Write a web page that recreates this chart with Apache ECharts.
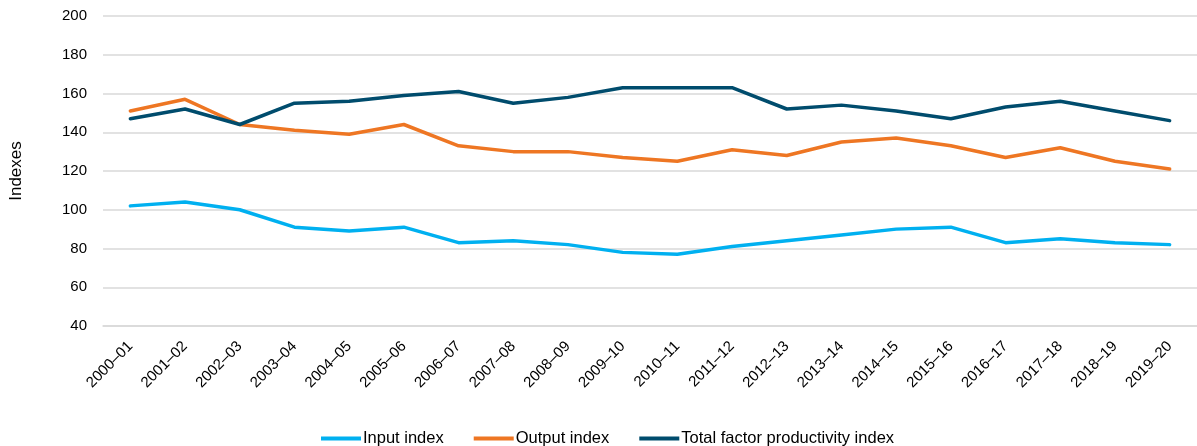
<!DOCTYPE html>
<html>
<head>
<meta charset="utf-8">
<script src="https://cdn.jsdelivr.net/npm/echarts@6/dist/echarts.min.js"></script>
<style>
  html, body { margin: 0; padding: 0; background: #fff; }
  #chart { width: 1197px; height: 446px; }
</style>
</head>
<body>
<div id="chart"></div>
<script>
const years = [
    "2000–01", "2001–02", "2002–03", "2003–04", "2004–05", "2005–06", "2006–07",
    "2007–08", "2008–09", "2009–10", "2010–11", "2011–12", "2012–13", "2013–14",
    "2014–15", "2015–16", "2016–17", "2017–18", "2018–19", "2019–20"
];
const inputIndex = [102, 104, 100, 91, 89, 91, 83, 84, 82, 78, 77, 81, 84, 87, 90, 91, 83, 85, 83, 82];
const outputIndex = [151, 157, 144, 141, 139, 144, 133, 130, 130, 127, 125, 131, 128, 135, 137, 133, 127, 132, 125, 121];
const tfpIndex = [147, 152, 144, 155, 156, 159, 161, 155, 158, 163, 163, 163, 152, 154, 151, 147, 153, 156, 151, 146];

const font = "'Liberation Sans', 'Noto Sans', sans-serif";
const chart = echarts.init(document.getElementById("chart"), null, { renderer: "canvas" });

function line(name, data, color) {
    return {
        name,
        type: "line",
        data,
        symbol: "none",
        lineStyle: { width: 3.5, color, cap: "round" },
        itemStyle: { color }
    };
}

chart.setOption({
    animation: false,
    backgroundColor: "#fff",
    textStyle: { fontFamily: font },
    grid: { left: 103, right: -3, top: 16, bottom: 120 },
    legend: {
        top: 425,
        left: 316,
        icon: "rect",
        itemWidth: 40,
        itemHeight: 4,
        itemGap: 30,
        textStyle: { fontSize: 16.5, color: "#000", fontFamily: font, padding: [0, 0, 0, -3] },
        data: ["Input index", "Output index", "Total factor productivity index"]
    },
    xAxis: {
        type: "category",
        data: years,
        boundaryGap: true,
        axisLine: { show: true, lineStyle: { color: "#d9d9d9", width: 1.5 } },
        axisTick: { show: false },
        axisLabel: { rotate: 45, color: "#000", fontSize: 15, margin: 18, interval: 0 }
    },
    yAxis: {
        type: "value",
        min: 40,
        max: 200,
        interval: 20,
        name: "Indexes",
        nameLocation: "middle",
        nameGap: 78,
        nameRotate: 90,
        nameTextStyle: { fontSize: 17, color: "#000" },
        axisLine: { show: false },
        axisTick: { show: false },
        axisLabel: { color: "#000", fontSize: 15, margin: 16 },
        splitLine: { lineStyle: { color: "#d9d9d9", width: 1.5 } }
    },
    series: [
        line("Input index", inputIndex, "#00b0f0"),
        line("Output index", outputIndex, "#ee7623"),
        line("Total factor productivity index", tfpIndex, "#004c6d")
    ]
});
</script>
</body>
</html>
